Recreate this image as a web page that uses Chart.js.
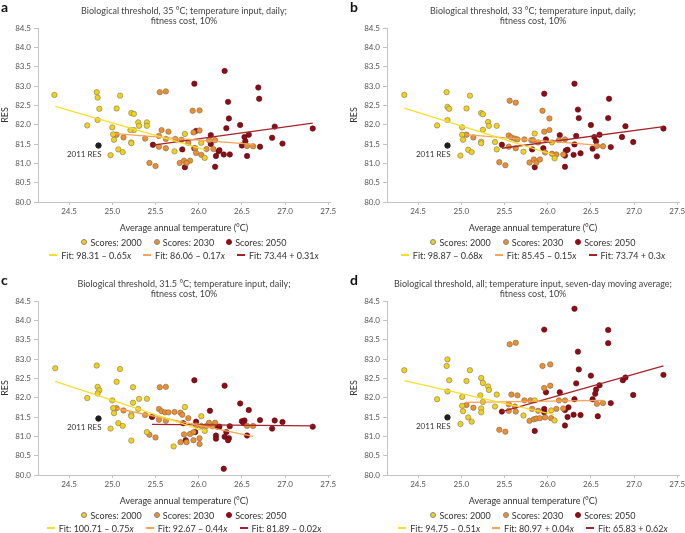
<!DOCTYPE html>
<html>
<head>
<meta charset="utf-8">
<script src="https://cdn.jsdelivr.net/npm/chart.js@4"></script>
<style>
  body { margin: 0; background: #fff; font-family: Lato, sans-serif; color: #333; }
  #wrap { position: relative; width: 685px; height: 533px; overflow: hidden; }
  canvas { position: absolute; }
  .letter { position: absolute; font: bold 14px Lato, sans-serif; color: #111; }
  .title { position: absolute; width: 292px; text-align: center; font-size: 9px; line-height: 10px; color: #444; white-space: nowrap; }
  .legend { position: absolute; width: 292px; font-size: 9px; line-height: 11px; color: #333; }
  .row { display: flex; justify-content: center; align-items: center; height: 13px; white-space: nowrap; }
  .item { display: flex; align-items: center; margin: 0 6px; }
  .dot { flex: none; box-sizing: border-box; width: 6px; height: 6px; border-radius: 50%; border: 0.5px solid #888; margin-right: 3px; }
  .ln { flex: none; width: 8px; height: 2px; margin-right: 4px; }
</style>
</head>
<body>
<div id="wrap"></div>
<script>
// scatter points [temperature, RES]
const a2000 = [[24.33,82.77],[24.82,82.84],[24.83,82.70],[25.09,82.75],[24.85,82.41],[25.05,82.42],[24.71,81.98],[24.83,82.12],[25.22,82.30],[25.25,82.28],[25.30,82.06],[25.40,82.06],[25.31,81.97],[25.40,81.97],[25.00,81.93],[25.25,81.86],[25.21,81.86],[25.01,81.75],[25.02,81.61],[25.22,81.54],[25.22,81.52],[25.07,81.36],[25.12,81.29],[24.98,81.21],[25.84,81.76],[25.72,81.31],[26.03,81.53],[26.07,81.14]];
const a2030 = [[25.55,82.84],[25.62,82.86],[25.93,82.36],[26.01,82.37],[25.57,81.86],[25.65,81.82],[25.94,81.80],[26.01,81.85],[25.05,81.74],[25.13,81.67],[25.38,81.64],[25.54,81.71],[25.62,81.63],[25.73,81.63],[25.80,81.61],[25.88,81.53],[26.12,81.60],[26.19,81.60],[25.54,81.43],[25.62,81.39],[25.96,81.39],[26.09,81.37],[26.17,81.37],[25.97,81.27],[26.03,81.22],[25.43,81.01],[25.50,80.93],[25.78,81.01],[25.83,81.07],[25.90,81.07],[25.86,81.01],[26.56,81.45],[26.63,81.44]];
const a2050 = [[26.30,83.39],[25.95,83.06],[26.69,82.96],[26.70,82.67],[26.34,82.59],[26.35,82.16],[26.48,81.99],[26.32,81.91],[26.88,81.95],[27.32,81.90],[26.85,81.66],[26.97,81.51],[25.97,81.84],[26.14,81.73],[26.58,81.74],[26.53,81.68],[26.54,81.57],[26.50,81.46],[26.71,81.43],[25.47,81.48],[25.95,81.39],[25.81,81.36],[26.14,81.50],[26.23,81.31],[26.24,81.34],[26.20,81.19],[26.29,81.23],[26.36,81.23],[26.56,81.19],[25.84,80.90],[26.19,80.91]];

const b2000 = [[24.34,82.77],[24.83,82.84],[24.84,82.46],[24.86,82.41],[25.10,82.75],[25.06,82.42],[24.84,82.12],[24.72,81.98],[25.23,82.30],[25.25,82.27],[25.31,82.07],[25.32,81.97],[25.41,81.97],[25.25,81.87],[25.01,81.93],[25.01,81.74],[25.02,81.61],[25.23,81.56],[25.23,81.52],[25.08,81.35],[25.12,81.29],[24.99,81.20],[25.39,81.55],[25.41,81.36],[25.72,81.30],[25.85,81.77],[26.05,81.54],[26.08,81.13]];
const b2030 = [[25.56,82.62],[25.63,82.57],[25.94,82.36],[26.02,82.16],[25.96,81.82],[26.02,81.86],[25.55,81.72],[25.58,81.67],[25.62,81.64],[25.65,81.62],[25.73,81.62],[25.81,81.60],[25.83,81.60],[25.89,81.54],[26.13,81.60],[26.20,81.62],[25.06,81.74],[25.14,81.67],[25.55,81.43],[25.63,81.39],[25.97,81.28],[26.05,81.25],[26.10,81.23],[26.18,81.23],[25.44,81.03],[25.51,80.95],[25.79,81.02],[25.84,81.10],[25.87,81.02],[25.91,81.10],[26.57,81.45],[26.64,81.44]];
const b2050 = [[26.31,83.06],[25.96,82.80],[26.71,82.67],[26.35,82.39],[26.36,82.17],[26.70,82.17],[26.50,81.99],[26.90,81.96],[27.34,81.90],[26.86,81.68],[26.99,81.55],[26.14,81.73],[26.33,81.71],[26.60,81.74],[26.54,81.68],[26.56,81.57],[25.98,81.62],[25.95,81.39],[25.82,81.36],[26.31,81.49],[26.52,81.38],[26.73,81.42],[25.47,81.48],[26.21,81.33],[26.23,81.35],[26.20,81.20],[26.30,81.22],[26.38,81.26],[26.57,81.18],[25.85,80.90],[26.20,80.91]];

const c2000 = [[24.34,82.76],[24.82,82.83],[25.09,82.74],[24.83,82.28],[24.85,82.19],[24.83,82.11],[25.05,82.41],[24.71,81.99],[25.24,82.27],[25.31,81.97],[25.40,81.97],[25.24,81.87],[25.00,81.93],[25.01,81.73],[25.02,81.60],[25.30,81.71],[25.22,81.56],[25.22,81.52],[25.07,81.34],[25.12,81.27],[24.98,81.20],[25.22,80.89],[25.40,81.11],[25.84,81.76],[26.03,81.52],[26.07,81.14],[25.71,80.74]];
const c2030 = [[25.55,82.27],[25.62,82.28],[25.05,81.73],[25.13,81.67],[25.38,81.55],[25.54,81.71],[25.57,81.65],[25.61,81.62],[25.65,81.62],[25.72,81.63],[25.79,81.61],[25.81,81.56],[25.88,81.47],[25.54,81.43],[25.62,81.40],[25.97,81.28],[26.03,81.27],[26.12,81.35],[26.19,81.35],[26.09,81.27],[26.16,81.26],[26.56,81.27],[26.63,81.27],[25.83,81.05],[25.90,81.06],[25.94,81.11],[26.01,80.95],[26.01,80.80],[25.94,80.90],[25.86,80.85],[25.79,80.85],[25.43,81.04],[25.50,80.97]];
const c2050 = [[25.95,82.45],[26.30,82.31],[26.48,81.85],[26.58,81.68],[26.13,81.66],[25.46,81.50],[25.82,81.34],[25.97,81.38],[26.22,81.25],[26.24,81.25],[26.36,81.26],[26.50,81.39],[26.53,81.41],[26.52,81.34],[26.71,81.42],[26.88,81.41],[26.97,81.37],[26.85,81.20],[27.32,81.25],[25.96,81.11],[25.85,80.90],[26.20,81.02],[26.20,80.94],[26.32,81.11],[26.30,80.99],[26.35,80.95],[26.34,80.90],[26.56,81.02],[26.29,80.16]];

const d2000 = [[24.34,82.71],[24.84,82.99],[24.83,82.82],[24.86,82.45],[25.10,82.71],[25.06,82.43],[24.72,81.96],[24.84,82.16],[25.01,82.02],[25.23,82.51],[25.25,82.38],[25.31,82.29],[25.32,82.20],[25.41,82.08],[25.22,82.06],[25.25,81.89],[25.01,81.79],[25.02,81.65],[25.23,81.72],[25.23,81.62],[25.08,81.49],[25.12,81.38],[24.99,81.32],[25.39,81.77],[25.72,81.54],[25.85,81.93],[26.04,81.67],[26.08,81.41]];
const d2030 = [[25.56,83.38],[25.63,83.42],[25.94,82.82],[26.03,82.86],[25.96,82.25],[26.03,82.31],[25.58,82.08],[25.65,82.06],[25.06,81.81],[25.14,81.74],[25.55,81.83],[25.62,81.77],[25.73,81.93],[25.80,81.93],[26.13,81.93],[26.20,81.93],[25.55,81.66],[25.63,81.64],[25.82,81.71],[25.89,81.66],[26.10,81.71],[26.18,81.72],[26.57,81.84],[26.64,81.86],[25.44,81.17],[25.51,81.12],[25.79,81.40],[25.84,81.44],[25.87,81.46],[25.91,81.47],[25.97,81.49],[26.04,81.47]];
const d2050 = [[26.31,84.30],[25.96,83.76],[26.70,83.75],[26.70,83.41],[26.35,83.19],[26.36,82.73],[26.50,82.57],[25.98,82.14],[26.14,82.14],[26.33,82.37],[26.60,82.32],[26.56,82.21],[26.55,82.10],[26.87,82.45],[26.90,82.52],[27.34,82.59],[26.99,82.07],[26.31,81.96],[26.52,81.96],[26.73,81.86],[25.96,81.71],[25.96,81.62],[25.47,81.64],[26.20,81.68],[26.24,81.75],[26.23,81.50],[26.30,81.56],[26.38,81.55],[26.58,81.52],[26.20,81.28],[25.85,81.14]];

// fit line end points
const aFit = [[[24.34,82.47],[26.08,81.35]], [[25.03,81.77],[26.63,81.49]], [[25.47,81.47],[27.32,82.04]]];
const bFit = [[[24.34,82.43],[26.07,81.22]], [[25.05,81.74],[26.57,81.47]], [[25.47,81.39],[27.34,81.95]]];
const cFit = [[[24.34,82.42],[26.08,81.13]], [[25.05,81.72],[26.63,81.00]], [[25.46,81.31],[27.32,81.27]]];
const dFit = [[[24.34,82.44],[26.07,81.56]], [[25.05,81.88],[26.65,81.93]], [[25.47,81.64],[27.34,82.82]]];

const aFitLabels = ['Fit: 98.31 – 0.65<i>x</i>', 'Fit: 86.06 – 0.17<i>x</i>', 'Fit: 73.44 + 0.31<i>x</i>'];
const bFitLabels = ['Fit: 98.87 – 0.68<i>x</i>', 'Fit: 85.45 – 0.15<i>x</i>', 'Fit: 73.74 + 0.3<i>x</i>'];
const cFitLabels = ['Fit: 100.71 – 0.75<i>x</i>', 'Fit: 92.67 – 0.44<i>x</i>', 'Fit: 81.89 – 0.02<i>x</i>'];
const dFitLabels = ['Fit: 94.75 – 0.51<i>x</i>', 'Fit: 80.97 + 0.04<i>x</i>', 'Fit: 65.83 + 0.62<i>x</i>'];

const years = ['2000', '2030', '2050'];
const res2011 = [24.84, 81.46];
const res2011d = [24.84, 81.49];

const titles = {
  a: ['Biological threshold, 35 °C; temperature input, daily;', 'fitness cost, 10%'],
  b: ['Biological threshold, 33 °C; temperature input, daily;', 'fitness cost, 10%'],
  c: ['Biological threshold, 31.5 °C; temperature input, daily;', 'fitness cost, 10%'],
  d: ['Biological threshold, all; temperature input, seven-day moving average;', 'fitness cost, 10%']
};

const dotColors = ['#f3d116', '#ec8f2c', '#8d0c16'];
const dotBorders = ['#7a7a6a', '#7a6a5a', '#5a0a10'];
const lineColors = ['#f6df2c', '#f5a456', '#a5242b'];
const axisColor = '#c4c4c4';
const tickColor = '#555';

const resLabel = {
  id: 'resLabel',
  afterDatasetsDraw(chart) {
    const ds = chart.data.datasets.find(d => d.isRes);
    const p = ds.data[0];
    const x = chart.scales.x.getPixelForValue(p.x);
    const y = chart.scales.y.getPixelForValue(p.y);
    const ctx = chart.ctx;
    ctx.save();
    ctx.font = '8px Lato, sans-serif';
    ctx.fillStyle = '#333';
    ctx.textAlign = 'right';
    ctx.textBaseline = 'middle';
    ctx.fillText('2011 RES', x + 3, y + 9);
    ctx.restore();
  }
};

function panel(letter, left, top, width, points, fits, fitLabels, res) {
  const wrap = document.getElementById('wrap');
  const cv = document.createElement('canvas');
  cv.width = width; cv.height = 266;
  cv.style.left = left + 'px'; cv.style.top = top + 'px';
  wrap.appendChild(cv);

  const lt = document.createElement('div');
  lt.className = 'letter'; lt.textContent = letter;
  lt.style.left = (left + 1) + 'px'; lt.style.top = (top - 2) + 'px';
  wrap.appendChild(lt);

  const tt = document.createElement('div');
  tt.className = 'title'; tt.innerHTML = titles[letter].join('<br>');
  tt.style.left = (left + 38) + 'px'; tt.style.top = (top + 6) + 'px';
  wrap.appendChild(tt);

  const lg = document.createElement('div');
  lg.className = 'legend';
  lg.style.left = (left + 38) + 'px'; lg.style.top = (top + 235.5) + 'px';
  let r1 = '', r2 = '';
  years.forEach((y, i) => {
    const bc = i === 2 ? dotColors[i] : '#888';
    r1 += `<span class="item"><span class="dot" style="background:${dotColors[i]};border-color:${bc}"></span>Scores: ${y}</span>`;
    r2 += `<span class="item"><span class="ln" style="background:${lineColors[i]}"></span>${fitLabels[i]}</span>`;
  });
  lg.innerHTML = `<div class="row">${r1}</div><div class="row">${r2}</div>`;
  wrap.appendChild(lg);

  const datasets = [];
  fits.forEach((f, i) => {
    datasets.push({
      type: 'line',
      data: f.map(p => ({ x: p[0], y: p[1] })),
      borderColor: lineColors[i],
      borderWidth: 1.3,
      pointRadius: 0,
      order: 1
    });
  });
  points.forEach((s, i) => {
    datasets.push({
      data: s.map(p => ({ x: p[0], y: p[1] })),
      backgroundColor: dotColors[i],
      borderColor: dotBorders[i],
      borderWidth: 0.6,
      pointRadius: 2.7,
      order: 2
    });
  });
  datasets.push({
    isRes: true,
    data: [{ x: res[0], y: res[1] }],
    backgroundColor: '#1e1e1e',
    borderColor: '#1e1e1e',
    pointRadius: 2.7,
    order: 0
  });

  new Chart(cv.getContext('2d'), {
    type: 'scatter',
    data: { datasets },
    options: {
      responsive: false,
      animation: false,
      layout: { padding: { top: 28, right: width - 330, bottom: 30, left: 0 } },
      plugins: { legend: { display: false }, tooltip: { enabled: false } },
      scales: {
        x: {
          type: 'linear', min: 24.14, max: 27.52,
          ticks: { stepSize: 0.5, includeBounds: false, callback: v => v.toFixed(1), color: tickColor, font: { family: 'Lato', size: 8 }, padding: 2, maxRotation: 0 },
          grid: { drawOnChartArea: false, color: axisColor, tickLength: 3 },
          border: { color: axisColor },
          title: { display: true, text: 'Average annual temperature (°C)', color: '#333', font: { family: 'Lato', size: 9 }, padding: { top: 0, bottom: 3 } },
          afterFit: s => { s.height = 34; s.paddingLeft = 0; s.paddingRight = 0; }
        },
        y: {
          type: 'linear', min: 80, max: 84.5,
          ticks: { stepSize: 0.5, callback: v => v.toFixed(1), color: tickColor, font: { family: 'Lato', size: 8 }, padding: 3 },
          grid: { drawOnChartArea: false, color: axisColor, tickLength: 4 },
          border: { color: axisColor },
          title: { display: true, text: 'RES', color: '#333', font: { family: 'Lato', size: 9 }, padding: { top: 0, bottom: 0 } },
          afterFit: s => { s.width = 38; s.paddingTop = 0; s.paddingBottom = 0; }
        }
      }
    },
    plugins: [resLabel]
  });
}

panel('a', 0, 0, 342, [a2000, a2030, a2050], aFit, aFitLabels, res2011);
panel('b', 349, 0, 336, [b2000, b2030, b2050], bFit, bFitLabels, res2011);
panel('c', 0, 273, 342, [c2000, c2030, c2050], cFit, cFitLabels, res2011);
panel('d', 349, 273, 336, [d2000, d2030, d2050], dFit, dFitLabels, res2011d);
</script>
</body>
</html>
